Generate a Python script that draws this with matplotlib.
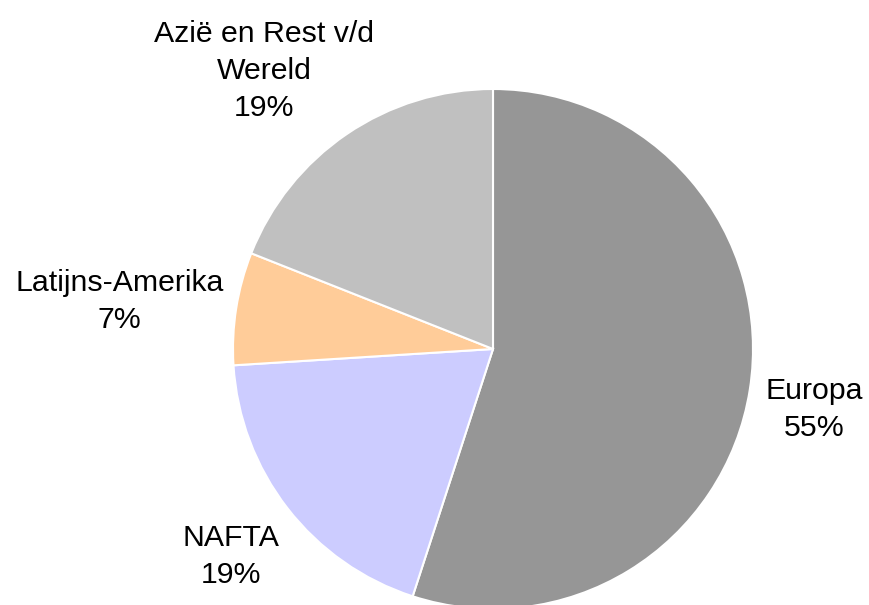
import matplotlib
matplotlib.use("Agg")
import matplotlib.pyplot as plt

# Gegevens
regio = ["Europa", "NAFTA", "Latijns-Amerika", "Azië en Rest v/d\nWereld"]
aandeel = [55, 19, 7, 19]
kleuren = ["#969696", "#CCCCFF", "#FFCC99", "#C0C0C0"]

# Plaats van de labels (in straal-eenheden t.o.v. het middelpunt)
label_pos = [(1.235, -0.232), (-1.008, -0.797), (-1.437, 0.184), (-0.881, 1.069)]

PX = 260.0  # straal in pixels
fig = plt.figure(figsize=(8.69, 6.05), dpi=100)
ax = fig.add_axes([0, 0, 1, 1])

ax.pie(aandeel, colors=kleuren, startangle=90, counterclock=False,
       radius=1.0, wedgeprops=dict(edgecolor="white", linewidth=1.5))

for naam, waarde, (x, y) in zip(regio, aandeel, label_pos):
    ax.text(x, y, f"{naam}\n{waarde}%", ha="center", va="center",
            multialignment="center", fontsize=21.8, family="Liberation Sans",
            color="black", linespacing=1.42)

ax.set_xlim(-493 / PX, (869 - 493) / PX)
ax.set_ylim(-(605 - 349) / PX, 349 / PX)
ax.set_aspect("auto")
ax.axis("off")

plt.savefig("out.png", dpi=100)
